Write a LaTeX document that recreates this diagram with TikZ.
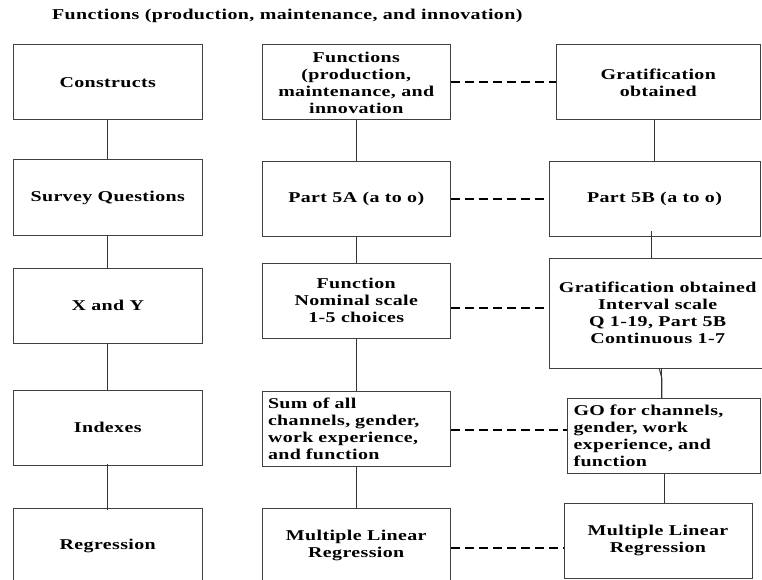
\documentclass[tikz,border=0pt]{standalone}
\usepackage{fontspec}
\newfontfamily\dfont{Liberation Serif}[FakeStretch=1.33, LetterSpace=2.5]
\tikzset{
  box/.style={draw=black!75, line width=1pt, rectangle, inner sep=0pt,
    minimum height=75pt, minimum width=188.5pt, align=center,
    font=\dfont\bfseries\fontsize{15}{17}\selectfont},
  lbox/.style={box, align=left, inner xsep=6pt, text width=#1},
  link/.style={draw=black!80, line width=1pt},
  dashline/.style={draw=black, line width=2pt, dash pattern=on 9pt off 5pt},
  titletext/.style={inner sep=0pt, anchor=west, font=\dfont\bfseries\fontsize{15}{17}\selectfont}
}
\begin{document}
\begin{tikzpicture}[x=1pt,y=-1pt]
\useasboundingbox (0,0) rectangle (762,580);
\node[titletext] (title) at (52,15.7) {Functions (production, maintenance, and innovation)};
% left column
\node[box] (con) at (107.75,82.5) {Constructs};
\node[box] (sur) at (107.75,197.5) {Survey Questions};
\node[box] (xy)  at (107.75,305.7) {X and Y};
\node[box] (idx) at (107.75,427.8) {Indexes};
\node[box] (reg) at (107.75,545.8) {Regression};
% middle column
\node[box] (fun) at (356.25,82.5) {Functions\\(production,\\maintenance, and\\innovation};
\node[box] (p5a) at (356.25,199.2) {Part 5A (a to o)};
\node[box] (nom) at (356.25,300.7) {Function\\Nominal scale\\1-5 choices};
\node[lbox=176.5pt] (sum) at (356.25,428.5) {Sum of all\\channels, gender,\\work experience,\\and function};
\node[box] (mlr) at (356.25,545.8) {Multiple Linear\\Regression};
% right column
\node[box, minimum width=204.5pt] (gt) at (658.25,82.5) {Gratification\\obtained};
\node[box, minimum width=211pt] (p5b) at (654.5,199.2) {Part 5B (a to o)};
\node[box, minimum width=216.7pt, minimum height=109.7pt] (gob) at (657.65,313.2) {Gratification obtained\\Interval scale\\Q 1-19, Part 5B\\Continuous 1-7};
\node[lbox=181pt] (go) at (664,436) {GO for channels,\\gender, work\\experience, and\\function};
\node[box, minimum width=188pt] (m3) at (658,540.8) {Multiple Linear\\Regression};
% solid connectors
\draw[link] (con.south) -- (sur.north);
\draw[link] (sur.south) -- (xy.north);
\draw[link] (xy.south) -- (idx.north);
\draw[link] ([yshift=2pt]idx.south) -- ([yshift=-2pt]reg.north);
\draw[link] (fun.south) -- (p5a.north);
\draw[link] (p5a.south) -- (nom.north);
\draw[link] (nom.south) -- (sum.north);
\draw[link] (sum.south) -- (mlr.north);
\draw[link] (p5b.north |- gt.south) -- (p5b.north);
\draw[link] ([xshift=-2.8pt,yshift=6pt]p5b.south) -- ([xshift=-2.8pt]p5b.south |- gob.north);
\draw[link] ([xshift=1.6pt]gob.south) -- ([xshift=4.3pt,yshift=-10pt]gob.south) -- ([xshift=4.3pt]gob.south |- go.north);
\draw[link] ([xshift=4.3pt]gob.south) -- ([xshift=4.3pt]gob.south |- go.north);
\draw[link] (go.south) -- (go.south |- m3.north);
% dashed connectors
\draw[dashline] (fun.east) -- (gt.west);
\draw[dashline] (p5a.east) -- (p5a.east -| p5b.west);
\draw[dashline] ([yshift=-7.3pt]nom.east) coordinate (d3) -- (d3 -| gob.west);
\draw[dashline] ([yshift=-1pt]sum.east) coordinate (d4) -- (d4 -| go.west);
\draw[dashline] ([yshift=-2.5pt]mlr.east) coordinate (d5) -- (d5 -| m3.west);
\end{tikzpicture}
\end{document}
